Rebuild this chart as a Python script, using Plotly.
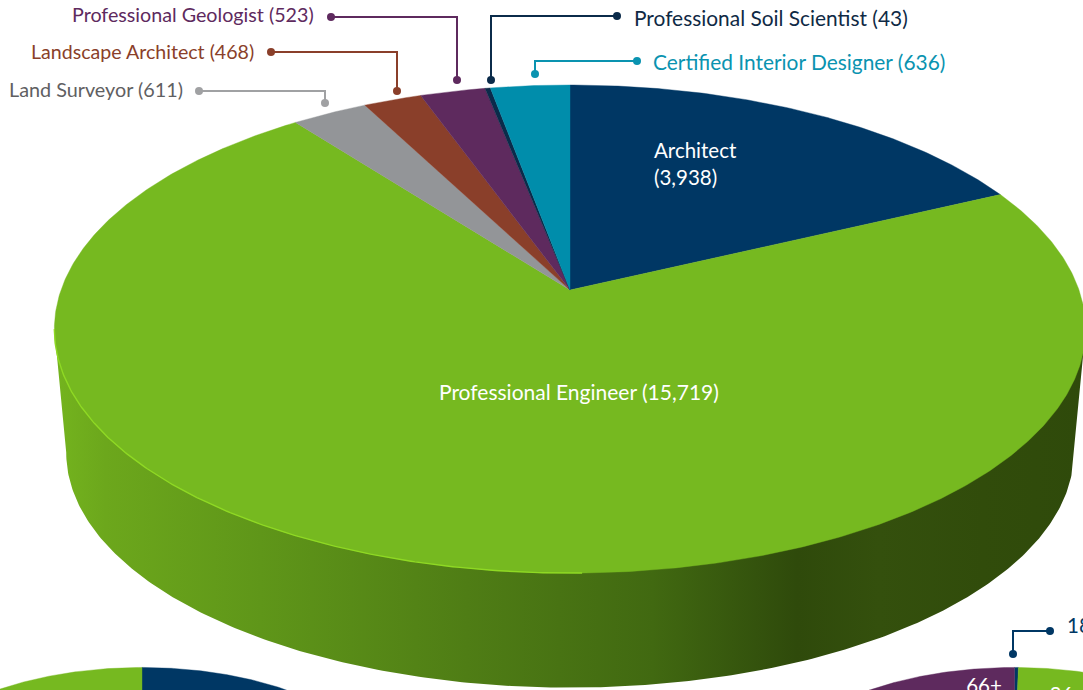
import numpy as np
import plotly.graph_objects as go

# ---- data ----
licence_types = ["Architect", "Professional Engineer", "Land Surveyor", "Landscape Architect",
                 "Professional Geologist", "Professional Soil Scientist", "Certified Interior Designer"]
licence_counts = [3938, 15719, 611, 468, 523, 43, 636]
licence_colors = ["#003764", "#76B920", "#939598", "#8A3F2A", "#5E2A5E", "#0B2B4A", "#008DAB"]

left_pie_values = [35, 65]                 # only its top edge is visible in the crop
left_pie_colors = ["#003764", "#76B920"]
age_pie_labels = ["18-25", "36-65", "", "66+"]
age_pie_values = [0.3, 76.2, 11.7, 11.8]   # estimated, pie is cropped by the page edge
age_pie_colors = ["#003764", "#76B920", "#8A3F2A", "#5E2A5E"]

FONT = "Lato, Carlito, Calibri, sans-serif"
W, H = 1083, 690
K = 0.16   # perspective of the tilted disc


def project(theta, cx, cy, a, b):
    s, c = np.sin(theta), np.cos(theta)
    w = 1 + K * c
    return cx + a * s / w, cy - b * c / w


def pie_traces(values, colors, cx, cy, a, b):
    edges = np.concatenate([[0], np.cumsum(values)]) / np.sum(values) * 2 * np.pi
    out = []
    for t0, t1, col in zip(edges[:-1], edges[1:], colors):
        th = np.linspace(t0, t1, max(6, int((t1 - t0) * 120)))
        x, y = project(th, cx, cy, a, b)
        out.append(go.Scatter(x=np.r_[cx, x, cx], y=np.r_[cy, y, cy], mode="lines", fill="toself",
                              fillcolor=col, line=dict(color=col, width=0.4), hoverinfo="skip",
                              showlegend=False))
    return out


fig = go.Figure()

# main disc
CX, CY, A, B = 570, 290, 509, 237.8
widest = np.arccos(-K)

# extruded wall
th = np.linspace(widest, 2 * np.pi - widest, 300)
xl, yl = project(th, CX, 415, A * 0.977, B * 0.963)
xu, yu = project(np.array([widest, 2 * np.pi - widest]), CX, CY, A, B)
fig.add_trace(go.Scatter(
    x=np.r_[xu[0], xl, xu[1], xu[0]], y=np.r_[yu[0], yl, yu[1], yu[0]], mode="lines", fill="toself",
    line=dict(width=0), hoverinfo="skip", showlegend=False,
    fillgradient=dict(type="horizontal", colorscale=[
        [0.00, "#74B41E"], [0.05, "#6CA71C"], [0.20, "#5F9619"], [0.40, "#4F7D15"],
        [0.58, "#416911"], [0.68, "#34530D"], [0.72, "#2F4A0B"], [0.80, "#34500D"],
        [0.90, "#314C0B"], [1.00, "#2F4A0B"]])))

for t in pie_traces(licence_counts, licence_colors, CX, CY, A, B):
    fig.add_trace(t)

# highlight along the lower-left rim
th = np.linspace(np.pi - 0.02, 2 * np.pi - widest, 200)
xh, yh = project(th, CX, CY, A, B)
fig.add_trace(go.Scatter(x=xh, y=yh, mode="lines", line=dict(color="#8FD924", width=1.4),
                         hoverinfo="skip", showlegend=False))

# cropped pies along the bottom edge
for t in pie_traces(left_pie_values, left_pie_colors, 142, 764, 240, 112):
    fig.add_trace(t)
for t in pie_traces(age_pie_values, age_pie_colors, 1014.5, 764, 240, 112):
    fig.add_trace(t)

# leaders: (start dot, elbow, end dot)
leaders = [
    ((199, 91), (325, 91), (325, 103), "#A0A1A3"),
    ((271, 52), (397, 52), (397, 91), "#8A3F2A"),
    ((331, 17), (457, 17), (457, 80), "#5E2A5E"),
    ((617, 16), (491, 16), (491, 80), "#0B2B4A"),
    ((637, 61), (535, 61), (535, 74), "#0A93B0"),
    ((1050, 631), (1013, 631), (1013, 654), "#003764"),
]
for p0, p1, p2, col in leaders:
    fig.add_trace(go.Scatter(x=[p0[0], p1[0], p2[0]], y=[p0[1], p1[1], p2[1]], mode="lines+markers",
                             line=dict(color=col, width=2),
                             marker=dict(color=col, size=[8, 0, 8], opacity=1, line=dict(width=0)),
                             hoverinfo="skip", showlegend=False))


def lab(i):
    return f"{licence_types[i]} ({licence_counts[i]:,})"


annos = [
    (183, 89, "right", lab(2), "#5F6062", 19.8),
    (254, 51, "right", lab(3), "#8A3F2A", 19.6),
    (314, 14, "right", lab(4), "#5E2A5E", 19.7),
    (634, 17, "left", lab(5), "#0F2A45", 20.9),
    (653, 61, "left", lab(6), "#0A93B0", 20.9),
    (579, 391, "center", lab(1), "#FFFFFF", 21),
    (654, 163, "left", f"{licence_types[0]}<br>({licence_counts[0]:,})", "#FFFFFF", 20.5),
]
for x, y, anchor, text, col, size in annos:
    fig.add_annotation(x=x, y=y, xref="x", yref="y", text=text, showarrow=False, xanchor=anchor,
                       yanchor="middle", align="left", font=dict(family=FONT, size=size, color=col),
                       borderpad=0, borderwidth=0)

# labels cut by the page edge stay clipped by the plot area
fig.add_trace(go.Scatter(x=[1067], y=[628], mode="text", text=[age_pie_labels[0]],
                         textposition="middle right", textfont=dict(family=FONT, size=20.5, color="#003764"),
                         hoverinfo="skip", showlegend=False))
fig.add_trace(go.Scatter(x=[984, 1077], y=[688, 697], mode="text", text=[age_pie_labels[3], age_pie_labels[1]],
                         textposition="middle center",
                         textfont=dict(family=FONT, size=20.5, color="#FFFFFF"),
                         hoverinfo="skip", showlegend=False))

fig.update_layout(
    width=W, height=H, margin=dict(l=0, r=0, t=0, b=0), paper_bgcolor="white", plot_bgcolor="white",
    xaxis=dict(range=[0, W], visible=False, fixedrange=True),
    yaxis=dict(range=[H, 0], visible=False, fixedrange=True),
    showlegend=False,
)
fig.write_html("out.html", config={"displayModeBar": False},
               post_script="document.body.style.margin='0';document.body.style.overflow='hidden';")
